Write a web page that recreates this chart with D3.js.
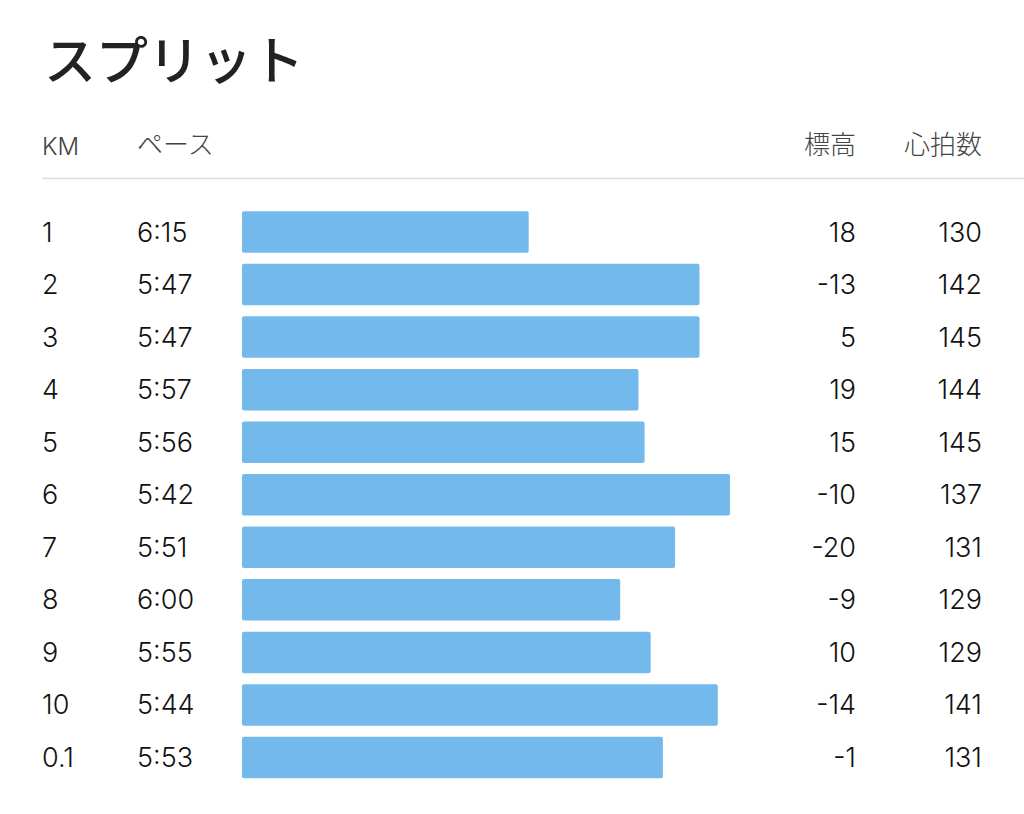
<!DOCTYPE html>
<html>
<head>
<meta charset="utf-8">
<script src="https://cdn.jsdelivr.net/npm/d3@7"></script>
<style>
  body { margin: 0; background: #fff; }
  text { font-family: Inter, "Noto Sans CJK JP", sans-serif; }
  .jp { font-family: "Noto Sans CJK JP", sans-serif; }
</style>
</head>
<body>
<div id="chart"></div>
<script>
var svgWidth = 1024
var svgHeight = 814

// data
var kms = ["1", "2", "3", "4", "5", "6", "7", "8", "9", "10", "0.1"]
var paces = ["6:15", "5:47", "5:47", "5:57", "5:56", "5:42", "5:51", "6:00", "5:55", "5:44", "5:53"]
var elevations = [18, -13, 5, 19, 15, -10, -20, -9, 10, -14, -1]
var heartRates = [130, 142, 145, 144, 145, 137, 131, 129, 129, 141, 131]
var headers = ["KM", "ペース", "標高", "心拍数"]

var rows = kms.map((k, i) => {
  var p = paces[i].split(":")
  return { km: k, pace: paces[i], secs: +p[0] * 60 + +p[1], elev: elevations[i], hr: heartRates[i] }
})

var svg = d3.select("#chart")
  .append("svg")
  .attr("width", svgWidth)
  .attr("height", svgHeight)

// title
svg.append("text")
  .attr("class", "jp")
  .attr("x", 44)
  .attr("y", 80)
  .attr("font-size", 52)
  .attr("font-weight", 500)
  .attr("fill", "#222")
  .text("スプリット")

// header row
var headerY = 155
svg.append("text").attr("x", 42).attr("y", headerY).attr("font-size", 24).attr("fill", "#444").attr("font-weight", 300).text(headers[0])
svg.append("text").attr("class", "jp").attr("x", 137).attr("y", headerY - 1).attr("font-size", 26).attr("fill", "#444").attr("font-weight", 300).text(headers[1])
svg.append("text").attr("class", "jp").attr("x", 856).attr("y", headerY - 1).attr("font-size", 26).attr("fill", "#444").attr("font-weight", 300).attr("text-anchor", "end").text(headers[2])
svg.append("text").attr("class", "jp").attr("x", 982).attr("y", headerY - 1).attr("font-size", 26).attr("fill", "#444").attr("font-weight", 300).attr("text-anchor", "end").text(headers[3])

svg.append("line")
  .attr("x1", 42).attr("x2", 1024)
  .attr("y1", 178.5).attr("y2", 178.5)
  .attr("stroke", "#dcdcdc")
  .attr("stroke-width", 1.5)

// scales
var yScale = d3.scaleBand()
  .domain(kms)
  .range([206, 783.5])
  .paddingInner(0.21)
  .paddingOuter(0.1)

// faster pace -> longer bar
var xScale = d3.scaleLinear()
  .domain([422, 342])
  .range([0, 488])

var barX = 242

var rowG = svg.selectAll("g.row")
  .data(rows)
  .enter()
  .append("g")
  .attr("class", "row")
  .attr("transform", d => `translate(0, ${yScale(d.km)})`)

rowG.append("rect")
  .attr("x", barX)
  .attr("y", 0)
  .attr("width", d => xScale(d.secs))
  .attr("height", yScale.bandwidth())
  .attr("rx", 2)
  .attr("fill", "#74b9ec")

var ty = yScale.bandwidth() / 2 + 9.5
var fs = 27

rowG.append("text")
  .attr("x", 42).attr("y", ty)
  .attr("font-size", fs).attr("font-weight", 300).attr("fill", "#111")
  .text(d => d.km)

rowG.append("text")
  .attr("x", 137).attr("y", ty)
  .attr("font-size", fs).attr("font-weight", 300).attr("fill", "#111")
  .text(d => d.pace)

rowG.append("text")
  .attr("x", 856).attr("y", ty)
  .attr("text-anchor", "end")
  .attr("font-size", fs).attr("font-weight", 300).attr("fill", "#111")
  .text(d => d.elev)

rowG.append("text")
  .attr("x", 982).attr("y", ty)
  .attr("text-anchor", "end")
  .attr("font-size", fs).attr("font-weight", 300).attr("fill", "#111")
  .text(d => d.hr)
</script>
</body>
</html>
